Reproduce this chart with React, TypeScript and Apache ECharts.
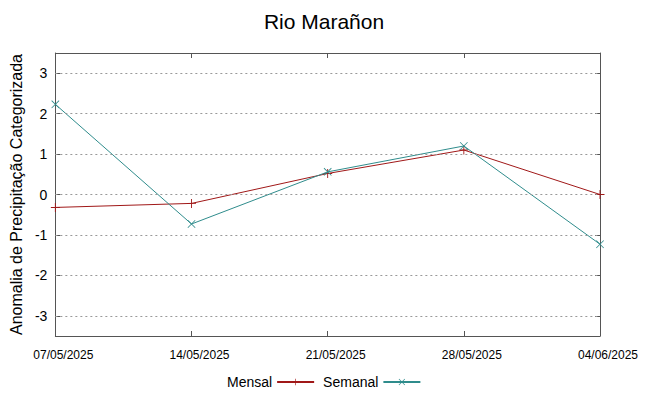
import React, { useEffect, useRef } from "react";
import * as echarts from "echarts";

const categories = ["07/05/2025", "14/05/2025", "21/05/2025", "28/05/2025", "04/06/2025"];
const mensal = [-0.32, -0.22, 0.52, 1.1, 0.0];
const semanal = [2.23, -0.73, 0.56, 1.2, -1.23];
const yTicks = [-3, -2, -1, 0, 1, 2, 3];
const title = "Rio Marañon";
const yLabel = "Anomalia de Precipitação Categorizada";

const PLUS = "path://M0,4.5H10V5.5H0Z M4.5,0H5.5V10H4.5Z";
const CROSS = "path://M0,0.7L0.7,0L10,9.3L9.3,10Z M9.3,0L10,0.7L0.7,10L0,9.3Z";

const FONT = "Liberation Sans, Arial, sans-serif";
const RED = "#a01818";
const TEAL = "#2f8c8c";

export default function App() {
  const ref = useRef<HTMLDivElement>(null);
  useEffect(() => {
    const chart = echarts.init(ref.current!, null, { renderer: "svg" });
    const axisLine = { show: true, onZero: false, lineStyle: { color: "#555", width: 1 } };
    const yTick = { show: true, inside: true, length: 5, customValues: yTicks, lineStyle: { color: "#555" } };
    chart.setOption({
      animation: false,
      backgroundColor: "#fff",
      title: {
        text: title,
        left: "center",
        top: 6,
        textStyle: { fontFamily: FONT, fontSize: 21, fontWeight: "normal", color: "#000" },
      },
      grid: { left: 50, right: 48, top: 53, bottom: 60, containLabel: false },
      legend: {
        bottom: 2,
        left: 222,
        align: "right",
        itemWidth: 37,
        itemHeight: 8,
        itemGap: 8,
        textStyle: { fontFamily: FONT, fontSize: 14, color: "#000" },
        data: ["Mensal", "Semanal"],
      },
      xAxis: [
        {
          type: "category",
          data: categories,
          boundaryGap: false,
          axisLine,
          axisTick: { show: true, inside: true, length: 5, lineStyle: { color: "#555" } },
          axisLabel: { fontFamily: FONT, fontSize: 12, color: "#000", margin: 13, padding: [0, 0, 0, 16] },
          splitLine: { show: false },
        },
        {
          type: "category",
          data: categories,
          boundaryGap: false,
          position: "top",
          axisLine,
          axisTick: { show: true, inside: true, length: 5, lineStyle: { color: "#555" } },
          axisLabel: { show: false },
          splitLine: { show: false },
        },
      ],
      yAxis: [
        {
          type: "value",
          min: -3.5,
          max: 3.5,
          axisLine,
          axisTick: yTick,
          axisLabel: {
            fontFamily: FONT,
            fontSize: 14,
            color: "#000",
            margin: 8,
            customValues: yTicks,
          },
          splitLine: { show: false },
          name: yLabel,
          nameLocation: "middle",
          nameGap: 23,
          nameTextStyle: { fontFamily: FONT, fontSize: 16, color: "#000" },
        },
        {
          type: "value",
          min: -3.5,
          max: 3.5,
          position: "right",
          axisLine,
          axisTick: yTick,
          axisLabel: { show: false },
          splitLine: { show: false },
        },
      ],
      series: [
        {
          name: "grid",
          type: "line",
          yAxisIndex: 0,
          data: [],
          markLine: {
            silent: true,
            symbol: "none",
            label: { show: false },
            lineStyle: { color: "#999", type: [2, 3], width: 1 },
            data: yTicks.map((v) => ({ yAxis: v })),
          },
        },
        {
          name: "Mensal",
          type: "line",
          data: mensal,
          symbol: PLUS,
          symbolSize: 9,
          itemStyle: { color: RED, borderWidth: 0 },
          lineStyle: { color: RED, width: 1 },
          z: 3,
        },
        {
          name: "Semanal",
          type: "line",
          data: semanal,
          symbol: CROSS,
          symbolSize: 8,
          itemStyle: { color: TEAL, borderWidth: 0 },
          lineStyle: { color: TEAL, width: 1 },
          z: 4,
        },
      ],
    });
    return () => chart.dispose();
  }, []);
  return <div ref={ref} style={{ width: 648, height: 396, position: "absolute", left: 0, top: 0 }} />;
}
